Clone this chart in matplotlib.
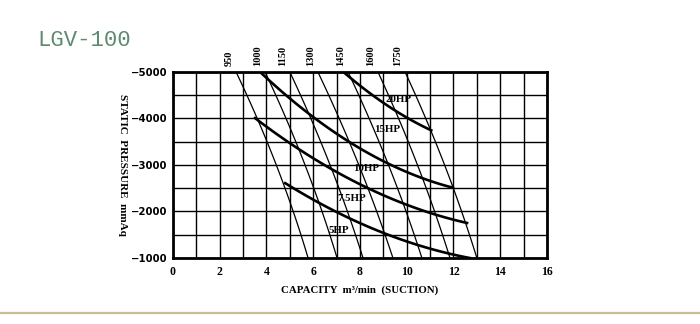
import numpy as np
import matplotlib
matplotlib.use("Agg")
import matplotlib.pyplot as plt

# fan speed lines (rpm): x position at -5000, -3000 and -1000 mmAq
rpm_values = [950, 1000, 1150, 1300, 1450, 1600, 1750]
rpm_x_top = [2.70, 3.94, 5.00, 6.20, 7.49, 8.77, 9.93]
rpm_x_mid = [4.42, 5.65, 6.72, 7.95, 9.22, 10.46, 11.62]
rpm_x_bot = [5.78, 7.02, 8.13, 9.41, 10.65, 11.85, 13.00]

# motor power curves
hp_names = ["20HP", "15HP", "10HP", "7.5HP", "5HP"]
hp_x = [
    [7.30, 8.98, 10.01, 11.05],
    [3.75, 5.99, 8.98, 11.98],
    [3.51, 5.40, 7.02, 12.58],
    [4.80, 7.00, 9.20, 12.70],
]
hp_y = [
    [-5000, -4333, -4032, -3740],
    [-5000, -4011, -3108, -2505],
    [-4011, -3330, -2849, -1753],
    [-2610, -1990, -1500, -1000],
]
hp_label_x = [9.63, 9.16, 8.26, 7.66, 7.10]
hp_label_y = [-4419, -3753, -2935, -2290, -1602]

x_ticks = [0, 2, 4, 6, 8, 10, 12, 14, 16]
y_ticks = [-5000, -4000, -3000, -2000, -1000]

fig = plt.figure(figsize=(7, 3.24), dpi=100)
ax = fig.add_axes([0.2471, 0.2037, 0.5343, 0.5741])
ax.set_xlim(0, 16)
ax.set_ylim(-1000, -5000)

# grid every 1 m3/min and 500 mmAq
for gx in np.arange(0, 17, 1):
    ax.axvline(gx, color="black", lw=1.0, zorder=1)
for gy in np.arange(-5000, -999, 500):
    ax.axhline(gy, color="black", lw=1.0, zorder=1)

for sp in ax.spines.values():
    sp.set_linewidth(2.0)

# rpm lines
for top, mid, bot, rpm in zip(rpm_x_top, rpm_x_mid, rpm_x_bot, rpm_values):
    ys = [-5000, -3000, -1000]
    c = np.polyfit(ys, [top, mid, bot], 2)
    yy = np.linspace(-5000, -1000, 60)
    ax.plot(np.polyval(c, yy), yy, color="black", lw=0.9, zorder=2)
    ax.text(top - 0.3, 1.03, str(rpm), transform=ax.get_xaxis_transform(),
            rotation=90, ha="center", va="bottom", fontsize=7.5,
            fontweight="bold", family="Liberation Serif")

# power curves
for xs, ys in zip(hp_x, hp_y):
    c = np.polyfit(xs, ys, 2)
    xx = np.linspace(xs[0], xs[-1], 80)
    ax.plot(xx, np.polyval(c, xx), color="black", lw=1.9, zorder=3)

for name, lx, ly in zip(hp_names, hp_label_x, hp_label_y):
    ax.text(lx, ly, name, ha="center", va="center", fontsize=7.8,
            fontweight="bold", family="Liberation Serif", zorder=4)

ax.set_xticks(x_ticks)
ax.set_xticklabels([str(v) for v in x_ticks], fontsize=8.5,
                   fontweight="bold", family="Liberation Serif")
ax.set_yticks(y_ticks)
ax.set_yticklabels(["\u2212" + str(-v) for v in y_ticks], fontsize=7.3,
                   fontweight="bold", family="DejaVu Sans")
ax.tick_params(length=0, pad=4)
ax.tick_params(axis="x", pad=6)

ax.set_xlabel("CAPACITY  m\u00b3/min  (SUCTION)", fontsize=7.8,
              fontweight="bold", family="Liberation Serif", labelpad=5)
ax.set_ylabel("STATIC  PRESSURE  mmAq", fontsize=8, fontweight="bold",
              family="Liberation Serif", rotation=270, labelpad=10)
ax.yaxis.set_label_coords(-0.148, 0.5)

fig.text(37 / 700, 1 - 40 / 324, "LGV-100", color="#5e8a70", fontsize=16,
         family="Liberation Mono", va="center", ha="left")

# rule along the bottom of the page
fig.add_artist(plt.Line2D([0, 1], [1 - 313 / 324] * 2, color="#c9bb98",
                          lw=1.6, transform=fig.transFigure))

fig.savefig("out.png", dpi=100, facecolor="white")
